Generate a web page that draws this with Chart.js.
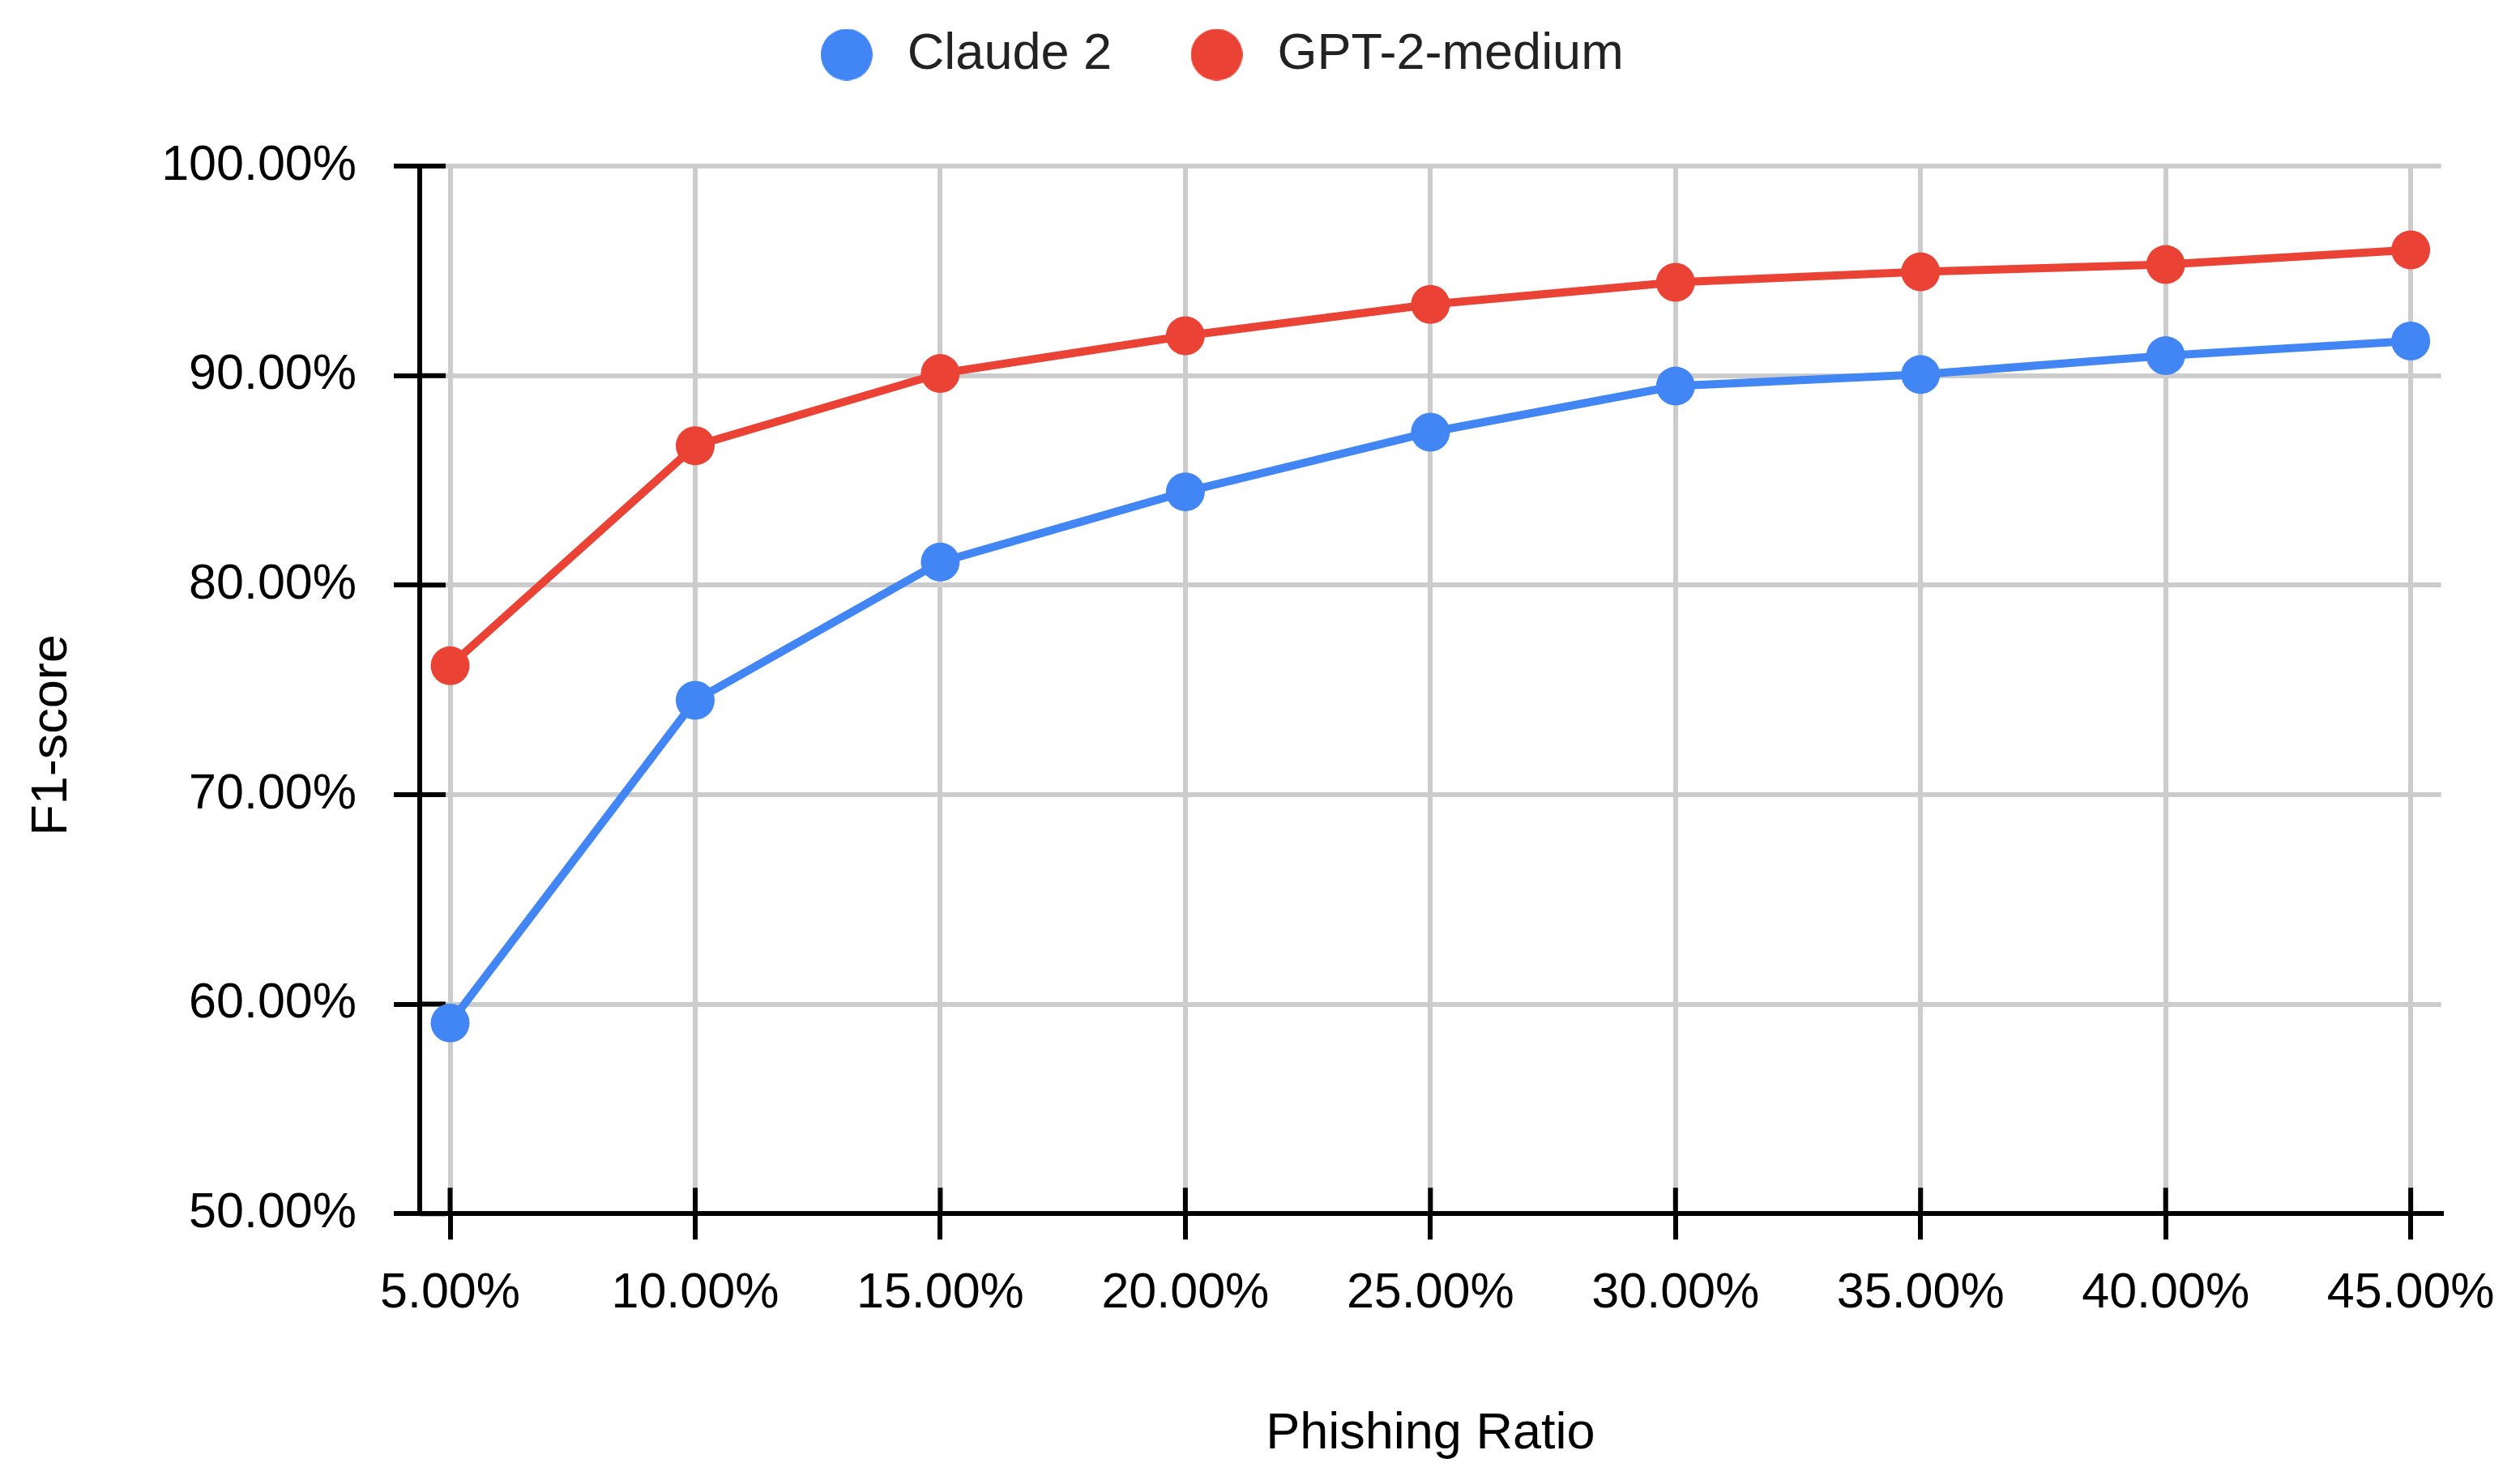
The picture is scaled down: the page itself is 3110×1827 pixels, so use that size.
<!DOCTYPE html>
<html>
<head>
<meta charset="utf-8">
<script src="https://cdn.jsdelivr.net/npm/chart.js@4.4.1/dist/chart.umd.min.js"></script>
<style>
  html, body { margin: 0; padding: 0; background: #fff; }
  #wrap { width: 3110px; height: 1827px; }
</style>
</head>
<body>
<div id="wrap"><canvas id="f1Chart"></canvas></div>
<script>
var ratios = [5, 10, 15, 20, 25, 30, 35, 40, 45]; // phishing ratio (%)
var claude2 = [59.1, 74.5, 81.1, 84.45, 87.3, 89.5, 90.05, 90.95, 91.65];
var gpt2Medium = [76.15, 86.65, 90.1, 91.9, 93.4, 94.45, 94.95, 95.3, 96.0];
var yTicks = [50, 60, 70, 80, 90, 100];

var blue = '#4285F4';
var red = '#EA4335';
var fontFamily = '"Liberation Sans", Arial, sans-serif';

function pct(v) {
    return Number(v).toFixed(2) + '%';
}

// round dot for the legend, so the gap to the text can be wider than the dot
function legendDot(color) {
    var c = document.createElement('canvas');
    c.width = 64;
    c.height = 64;
    var g = c.getContext('2d');
    g.fillStyle = color;
    g.beginPath();
    g.arc(32, 32, 32, 0, Math.PI * 2);
    g.fill();
    return c;
}
var dots = [legendDot(blue), legendDot(red)];

// extra room under the legend
const legendMargin = {
    id: 'legendMargin',
    beforeInit(chart) {
        const origFit = chart.legend.fit;
        chart.legend.fit = function fit() {
            origFit.bind(chart.legend)();
            this.height += 96;
        };
    }
};

// black tick marks that also cross into the plot area
const innerTicks = {
    id: 'innerTicks',
    beforeDatasetsDraw(chart) {
        const { ctx, chartArea, scales } = chart;
        ctx.save();
        ctx.strokeStyle = '#000';
        ctx.lineWidth = 6;
        ctx.beginPath();
        scales.x.ticks.forEach(t => {
            const px = scales.x.getPixelForValue(t.value);
            ctx.moveTo(px, chartArea.bottom);
            ctx.lineTo(px, chartArea.bottom - 32);
        });
        scales.y.ticks.forEach(t => {
            const py = scales.y.getPixelForValue(t.value);
            ctx.moveTo(chartArea.left, py);
            ctx.lineTo(chartArea.left + 32, py);
        });
        ctx.stroke();
        ctx.restore();
    }
};

// y title centred on the whole canvas height, like the original
const yTitle = {
    id: 'yTitle',
    afterDraw(chart) {
        const ctx = chart.ctx;
        ctx.save();
        ctx.translate(82, chart.height / 2 - 6);
        ctx.rotate(-Math.PI / 2);
        ctx.font = '63px ' + fontFamily;
        ctx.fillStyle = '#000';
        ctx.textAlign = 'center';
        ctx.textBaseline = 'alphabetic';
        ctx.fillText('F1-score', 0, 0);
        ctx.restore();
    }
};

const ctx = document.getElementById('f1Chart').getContext('2d');
const f1Chart = new Chart(ctx, {
    type: 'line',
    data: {
        datasets: [
            {
                label: 'Claude 2',
                data: ratios.map((r, i) => ({ x: r, y: claude2[i] })),
                borderColor: blue,
                backgroundColor: blue,
                borderWidth: 10,
                pointRadius: 24,
                pointBorderWidth: 0,
                tension: 0
            },
            {
                label: 'GPT-2-medium',
                data: ratios.map((r, i) => ({ x: r, y: gpt2Medium[i] })),
                borderColor: red,
                backgroundColor: red,
                borderWidth: 10,
                pointRadius: 24,
                pointBorderWidth: 0,
                tension: 0
            }
        ]
    },
    options: {
        responsive: true,
        maintainAspectRatio: false,
        devicePixelRatio: 1,
        animation: false,
        layout: {
            padding: { top: -50, left: -12, right: 93, bottom: 19 }
        },
        plugins: {
            legend: {
                display: true,
                position: 'top',
                labels: {
                    usePointStyle: true,
                    pointStyleWidth: 87,
                    padding: 86,
                    color: '#222',
                    font: { family: fontFamily, size: 63 },
                    generateLabels(chart) {
                        const items = Chart.defaults.plugins.legend.labels.generateLabels(chart);
                        items.forEach((it, i) => { it.pointStyle = dots[i]; });
                        return items;
                    }
                }
            },
            tooltip: { enabled: false }
        },
        scales: {
            x: {
                type: 'linear',
                min: ratios[0] - 0.62,
                max: ratios[ratios.length - 1] + 0.62,
                afterBuildTicks(scale) {
                    scale.ticks = ratios.map(v => ({ value: v }));
                },
                grid: {
                    color: '#cccccc',
                    lineWidth: 6,
                    tickColor: '#000',
                    tickWidth: 6,
                    tickLength: 32
                },
                border: { color: '#000', width: 6 },
                ticks: {
                    autoSkip: false,
                    maxRotation: 0,
                    padding: 30,
                    color: '#000',
                    font: { family: fontFamily, size: 61 },
                    callback: v => pct(v)
                },
                title: {
                    display: true,
                    text: 'Phishing Ratio',
                    color: '#000',
                    font: { family: fontFamily, size: 63 },
                    padding: { top: 69, bottom: 0 }
                }
            },
            y: {
                min: 50,
                max: 100,
                afterBuildTicks(scale) {
                    scale.ticks = yTicks.map(v => ({ value: v }));
                },
                afterFit(scale) {
                    scale.width = 530;
                },
                grid: {
                    color: '#cccccc',
                    lineWidth: 6,
                    tickColor: '#000',
                    tickWidth: 6,
                    tickLength: 32
                },
                border: { color: '#000', width: 6 },
                ticks: {
                    padding: 46,
                    color: '#000',
                    font: { family: fontFamily, size: 61 },
                    callback: v => pct(v)
                }
            }
        }
    },
    plugins: [legendMargin, innerTicks, yTitle]
});
</script>
</body>
</html>
